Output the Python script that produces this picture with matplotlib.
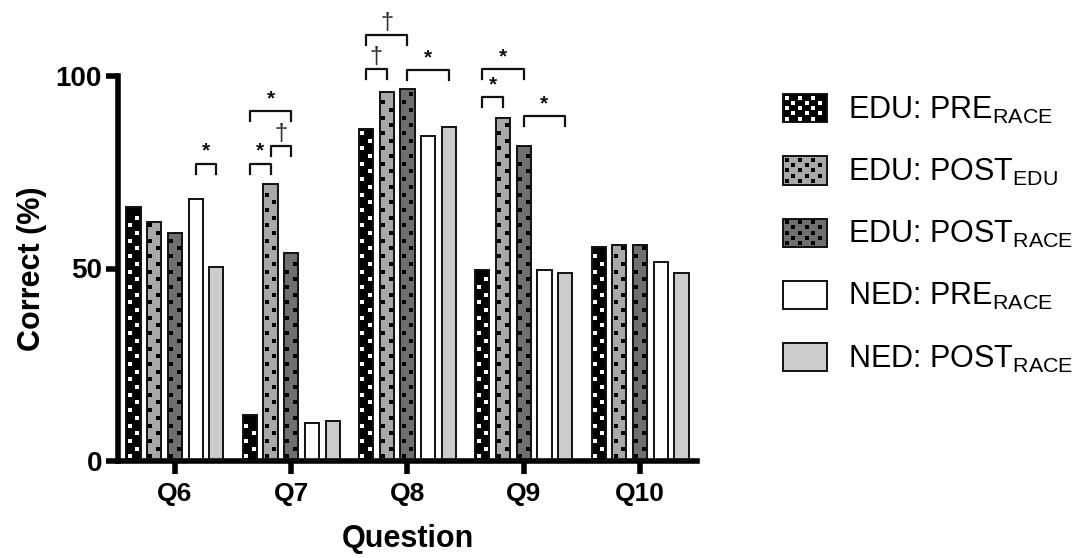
import numpy as np
import matplotlib.pyplot as plt
from matplotlib.patches import Patch, Rectangle
from matplotlib.lines import Line2D
from matplotlib.legend_handler import HandlerBase

plt.rcParams['font.family'] = ['Liberation Sans', 'DejaVu Sans']
plt.rcParams['mathtext.fontset'] = 'custom'
plt.rcParams['mathtext.rm'] = 'Liberation Sans'

questions = ['Q6', 'Q7', 'Q8', 'Q9', 'Q10']
edu_pre = [66.0, 12.0, 86.3, 49.5, 55.6]
edu_post_edu = [62.2, 71.9, 95.9, 89.1, 56.2]
edu_post_race = [59.2, 54.0, 96.7, 81.7, 56.2]
ned_pre = [68.1, 9.9, 84.3, 49.7, 51.6]
ned_post = [50.3, 10.4, 86.8, 48.9, 48.9]

labels = ['EDU: PRE$_{\\mathrm{RACE}}$', 'EDU: POST$_{\\mathrm{EDU}}$',
          'EDU: POST$_{\\mathrm{RACE}}$', 'NED: PRE$_{\\mathrm{RACE}}$',
          'NED: POST$_{\\mathrm{RACE}}$']
# fill colour, dot colour (None = plain bar)
fills = ['#000000', '#a8a8a8', '#6f6f6f', '#ffffff', '#cccccc']
dots = ['#ffffff', '#000000', '#000000', None, None]

# significance brackets: question, bar a, bar b, height, mark
brackets = [(0, 3, 4, 77.2, '*'), (1, 0, 1, 77.2, '*'), (1, 1, 2, 81.9, '†'),
            (1, 0, 2, 90.8, '*'), (2, 0, 1, 101.8, '†'), (2, 0, 2, 110.6, '†'),
            (2, 2, 4, 101.5, '*'), (3, 0, 1, 94.5, '*'), (3, 0, 2, 101.7, '*'),
            (3, 2, 4, 89.5, '*')]

series = [edu_pre, edu_post_edu, edu_post_race, ned_pre, ned_post]
x = np.arange(len(questions))
step = 0.178
width = 0.122
EDGE = '#111111'
DOT = 2.6


class DottedHandler(HandlerBase):
    # legend box with a staggered dot pattern like the bars
    def __init__(self, fill, dot):
        super().__init__()
        self.fill = fill
        self.dot = dot

    def create_artists(self, legend, orig_handle, xdescent, ydescent,
                       width, height, fontsize, trans):
        x0, y0 = -xdescent, -ydescent
        rect = Rectangle((x0, y0), width, height, facecolor=self.fill,
                         edgecolor=EDGE, lw=1.4, transform=trans)
        arts = [rect]
        if self.dot:
            ys = np.linspace(y0 + 2.6, y0 + height - 2.6, 5)
            px, py = [], []
            for r, yy in enumerate(ys):
                xs = np.arange(x0 + (2.6 if r % 2 == 0 else 7.4), x0 + width - 1.5, 9.6)
                px += list(xs)
                py += [yy] * len(xs)
            arts.append(Line2D(px, py, ls='none', marker='s', ms=DOT, mew=0,
                               color=self.dot, transform=trans))
        return arts


fig = plt.figure(figsize=(10.88, 5.58), dpi=100)
ax = fig.add_axes([118 / 1088, 1 - 461 / 558, (697 - 118) / 1088, (461 - 76) / 558])

handles = []
hmap = {}
for k, vals in enumerate(series):
    pos = x + (k - 2) * step
    ax.bar(pos, vals, width, color=fills[k], linewidth=0, zorder=2)
    ax.bar(pos, vals, width, facecolor='none', edgecolor=EDGE, linewidth=1.4, zorder=4)
    if dots[k] is not None:
        for p, v in zip(pos, vals):
            ys = np.arange(1.2, v - 0.8, 2.0)
            xs = p + np.where(np.arange(len(ys)) % 2 == 0, -0.27, 0.27) * width
            ax.plot(xs, ys, ls='none', marker='s', ms=DOT, mew=0, color=dots[k], zorder=3)
    h = Patch(facecolor=fills[k])
    handles.append(h)
    hmap[h] = DottedHandler(fills[k], dots[k])

leg_h = 2.6
for q, a, b, yv, mark in brackets:
    xa = x[q] + (a - 2) * step
    xb = x[q] + (b - 2) * step
    ax.plot([xa, xa, xb, xb], [yv - leg_h, yv, yv, yv - leg_h], color=EDGE,
            lw=1.6, clip_on=False, zorder=4)
    if mark == '*':
        ax.text((xa + xb) / 2, yv + 0.8, '*', ha='center', va='bottom',
                fontsize=15, fontweight='bold', color=EDGE)
    else:
        ax.text((xa + xb) / 2, yv + 0.3, '†', ha='center', va='bottom',
                fontsize=17, color='#3a2c2c')

ax.set_xlim(-0.49, 4.49)
ax.set_ylim(0, 100)
ax.set_yticks([0, 50, 100])
ax.set_xticks(x)
ax.set_xticklabels(questions)
for s in ['top', 'right']:
    ax.spines[s].set_visible(False)
for s in ['left', 'bottom']:
    ax.spines[s].set_linewidth(4)
ax.tick_params(axis='both', width=4, length=9)
ax.tick_params(axis='x', labelsize=19, pad=6)
ax.tick_params(axis='y', labelsize=20, pad=2.5)
for t in ax.get_xticklabels() + ax.get_yticklabels():
    t.set_fontweight('bold')
ax.set_xlabel('Question', fontsize=22, fontweight='bold', labelpad=13)
ax.set_ylabel('Correct (%)', fontsize=22, fontweight='bold', labelpad=6)

fig.legend(handles, labels, loc='upper left', bbox_to_anchor=(783 / 1088, 1 - 94 / 558),
           frameon=False, fontsize=22, handlelength=1.44, handleheight=1.05,
           labelspacing=1.0, handletextpad=0.7, borderpad=0, borderaxespad=0,
           handler_map=hmap)

fig.savefig('out.png', dpi=100)
